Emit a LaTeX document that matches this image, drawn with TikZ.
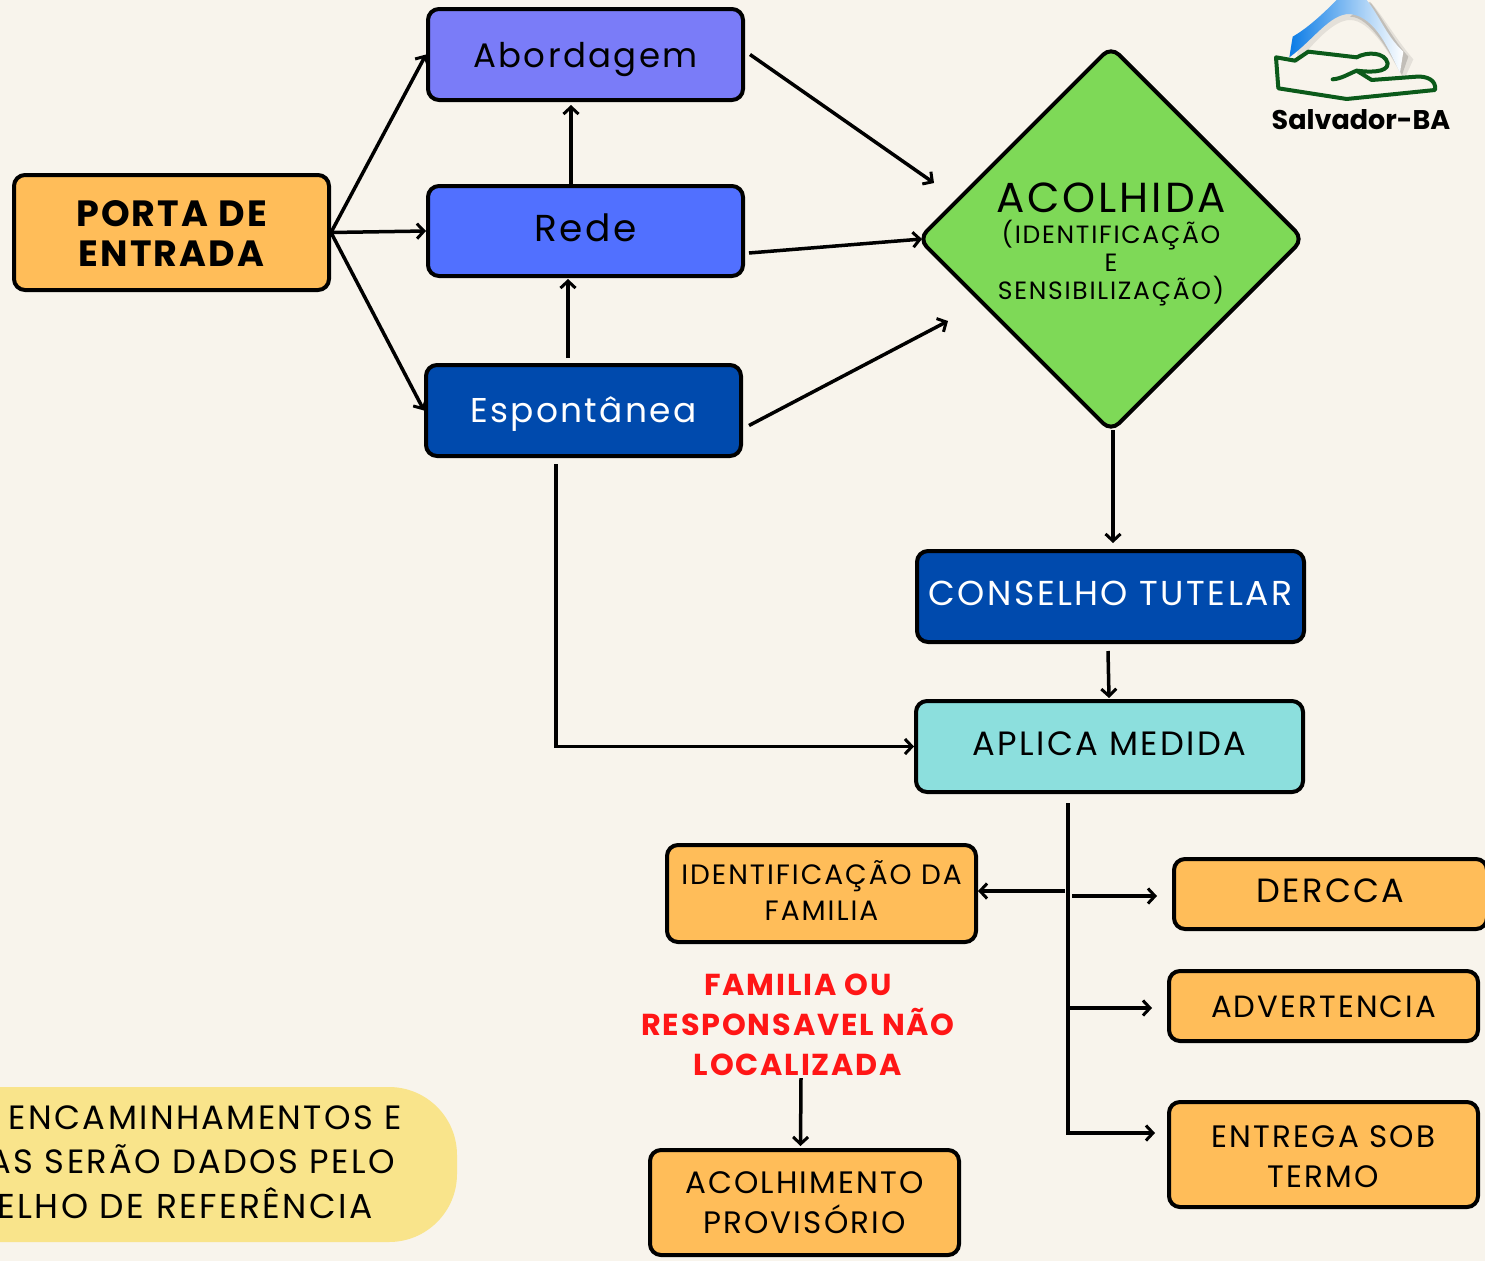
\documentclass[tikz,border=0pt]{standalone}
\usepackage{fontspec}
\usetikzlibrary{arrows.meta,shapes.geometric}
\setmainfont{Poppins}
\newfontfamily\pop[LetterSpace=7]{Poppins}
\newfontfamily\popb[LetterSpace=6]{Poppins}
\newfontfamily\popl{Poppins}
\newcommand\fsz[2]{\fontsize{#1}{#2}\selectfont}
\newcommand\nudge[2]{\raisebox{#1}[\height][\depth]{#2}}
\definecolor{bgc}{HTML}{F8F4EC}
\definecolor{orangec}{HTML}{FFBD59}
\definecolor{peric}{HTML}{7A7CF8}
\definecolor{redec}{HTML}{5170FF}
\definecolor{bluec}{HTML}{004AAD}
\definecolor{tealc}{HTML}{8CDFDD}
\definecolor{greenc}{HTML}{7ED957}
\definecolor{yellowc}{HTML}{F9E48B}
\definecolor{redc}{HTML}{FF1616}
\definecolor{handc}{HTML}{0B5A1A}
\definecolor{skyl}{HTML}{0A7BE6}
\definecolor{skym}{HTML}{12AEF0}
\tikzset{
  box/.style={draw=black,line width=4pt,rounded corners=11pt,inner sep=0pt,align=center},
  conn/.style={draw=black,line width=3.5pt,-{Straight Barb[length=7pt,width=15pt,line width=3pt]}},
  notetext/.style={font=\pop\fsz{33.7}{40},text=black,inner sep=0pt,anchor=east},
}
\begin{document}
\begin{tikzpicture}[x=1pt,y=-1pt]
\useasboundingbox (0,0) rectangle (1485,1261);
\clip (0,0) rectangle (1485,1261);
\fill[bgc] (0,0) rectangle (1485,1261);

% logo
\begin{scope}[shift={(1200,0)},x=0.3333pt,y=-0.3333pt]
\fill[black,opacity=0.08] (290,190) .. controls (340,130) and (400,60) .. (450,60) .. controls (510,60) and (570,160) .. (612,240) -- (640,178) .. controls (590,120) and (550,50) .. (515,10) -- (400,20) .. controls (370,50) and (330,90) .. (295,125) -- cycle;
\fill[black,opacity=0.15] (450,50) .. controls (510,50) and (570,160) .. (606,225) -- (625,170) .. controls (580,120) and (545,50) .. (510,5) -- cycle;
\shade[left color=skyl,middle color=skym,right color=white] (268,172) -- (278,110) .. controls (330,80) and (380,30) .. (410,0) -- (500,0) .. controls (540,50) and (560,110) .. (610,155) -- (600,218) .. controls (570,160) and (530,50) .. (450,42) .. controls (390,40) and (340,120) .. (268,172) -- cycle;
\draw[handc,line width=4pt,line join=round,line cap=round] (398,238) .. controls (425,236) and (445,222) .. (470,212) .. controls (500,216) and (565,220) .. (563,190) .. controls (555,155) and (500,155) .. (470,172) -- (325,155) -- (285,182) -- (228,172) -- (235,265) -- (440,297) -- (705,270) .. controls (710,240) and (680,228) .. (650,230) -- (515,240) -- (470,212);
\end{scope}
\node[font=\popl\bfseries\fsz{27}{32},inner sep=0pt] (logotext) at (1361,120) {Salvador-BA};

% yellow note
\node[fill=yellowc,rounded corners=68pt,minimum width=557pt,minimum height=155pt,inner sep=0pt] (note) at (178.5,1164.5) {};
\node[notetext] (n1) at (402,1118) {ENCAMINHAMENTOS E};
\node[notetext] (n2) at (395,1159) {AS SERÃO DADOS PELO};
\node[notetext,font=\pop\fsz{34.5}{40}] (n3) at (373,1203) {ELHO DE REFERÊNCIA};

% boxes
\node[box,fill=orangec,minimum width=315pt,minimum height=115pt,font=\popb\bfseries\fsz{36.5}{40}] (porta) at (171.5,232.5) {\nudge{-1pt}{PORTA DE}\\\nudge{-1pt}{ENTRADA}};
\node[box,fill=peric,minimum width=315pt,minimum height=91pt,font=\pop\fsz{34}{40}] (abord) at (585.5,54.5) {\nudge{-5pt}{Abordagem}};
\node[box,fill=redec,minimum width=315pt,minimum height=90pt,font=\pop\fsz{37.5}{40}] (rede) at (585.5,231) {\nudge{3pt}{Rede}};
\node[box,fill=bluec,text=white,minimum width=315pt,minimum height=91pt,font=\pop\fsz{34.4}{40}] (esp) at (583.5,410.5) {\nudge{-4pt}{Espontânea}};
\node[draw=black,line width=4pt,fill=greenc,shape=diamond,rounded corners=11pt,minimum width=386pt,minimum height=386pt,inner sep=0pt] (acolhida) at (1111,239) {};
\node[align=center,inner sep=0pt,font=\pop\fsz{25}{28}] (acolhidatext) at (1111,244.5)
  {{\fsz{42}{36}\selectfont ACOLHIDA}\\[3pt](IDENTIFICAÇÃO\\E\\SENSIBILIZAÇÃO)};
\node[box,fill=bluec,text=white,minimum width=387pt,minimum height=91pt,font=\pop\fsz{34.6}{40}] (conselho) at (1110.5,596.5) {\nudge{3pt}{CONSELHO TUTELAR}};
\node[box,fill=tealc,minimum width=387pt,minimum height=91pt,font=\pop\fsz{33.7}{40}] (aplica) at (1109.5,746.5) {\nudge{3pt}{APLICA MEDIDA}};
\node[box,fill=orangec,minimum width=309pt,minimum height=97pt,font=\pop\fsz{28}{36}] (ident) at (821.5,893.5) {\nudge{3pt}{IDENTIFICAÇÃO DA}\\\nudge{3pt}{FAMILIA}};
\node[box,fill=orangec,minimum width=313pt,minimum height=70pt,font=\pop\fsz{33.6}{40}] (dercca) at (1330.5,894) {\nudge{3pt}{DERCCA}};
\node[box,fill=orangec,minimum width=309pt,minimum height=70pt,font=\pop\fsz{30.7}{40}] (adv) at (1323.5,1006) {\nudge{-1pt}{ADVERTENCIA}};
\node[box,fill=orangec,minimum width=309pt,minimum height=105pt,font=\pop\fsz{31}{40}] (entrega) at (1323.5,1154.5) {\nudge{-2pt}{ENTREGA SOB}\\\nudge{-2pt}{TERMO}};
\node[box,fill=orangec,minimum width=309pt,minimum height=105pt,font=\pop\fsz{31}{40}] (acolh) at (804.5,1202.5) {ACOLHIMENTO\\PROVISÓRIO};
\node[font=\popb\bfseries\fsz{30.3}{40},text=redc,align=center,inner sep=0pt] (familia) at (798,1025) {FAMILIA OU\\RESPONSAVEL NÃO\\LOCALIZADA};

% free ends
\coordinate (dnw) at (934,183);
\coordinate (dw) at (922,239);
\coordinate (dsw) at (948,321);
\coordinate (trunktop) at (1068,803);
\coordinate (tident) at (1065,891);
\coordinate (tdercca) at (1072,896);
\coordinate (tadv) at (1068,1008);

% connectors
\draw[conn] (porta.east) -- (abord.west);
\draw[conn] (porta.east) -- (rede.west);
\draw[conn] (porta.east) -- (esp.west);
\draw[conn] ([xshift=-14.5pt]rede.north) -- ([xshift=-14.5pt,yshift=-3pt]abord.south);
\draw[conn] ([xshift=-15.5pt,yshift=5pt]esp.north) -- ([xshift=-17.5pt,yshift=-1pt]rede.south);
\draw[conn] ([xshift=5pt]abord.east) -- (dnw);
\draw[conn] ([xshift=4pt,yshift=-22pt]rede.east) -- (dw);
\draw[conn] ([xshift=6pt,yshift=-15pt]esp.east) -- (dsw);
\draw[conn] ([xshift=2pt,yshift=4pt]acolhida.south) -- ([xshift=2.5pt,yshift=6pt]conselho.north);
\draw[conn] ([xshift=-2.5pt,yshift=-7pt]conselho.south) -- ([xshift=-0.5pt,yshift=1pt]aplica.north);
\draw[conn] ([xshift=-27.5pt,yshift=-6pt]esp.south) |- (aplica.west);
\draw[conn] (trunktop) |- ([xshift=-12pt,yshift=21.5pt]entrega.west);
\draw[conn] (tident) -- (ident.east |- tident);
\draw[conn] (tdercca) -- ([xshift=-15pt,yshift=-2pt]dercca.west);
\draw[conn] (tadv) -- ([xshift=-15pt,yshift=-2pt]adv.west);
\draw[conn] ([xshift=3pt,yshift=-2pt]familia.south) -- ([xshift=-4pt,yshift=2pt]acolh.north);
\end{tikzpicture}
\end{document}
